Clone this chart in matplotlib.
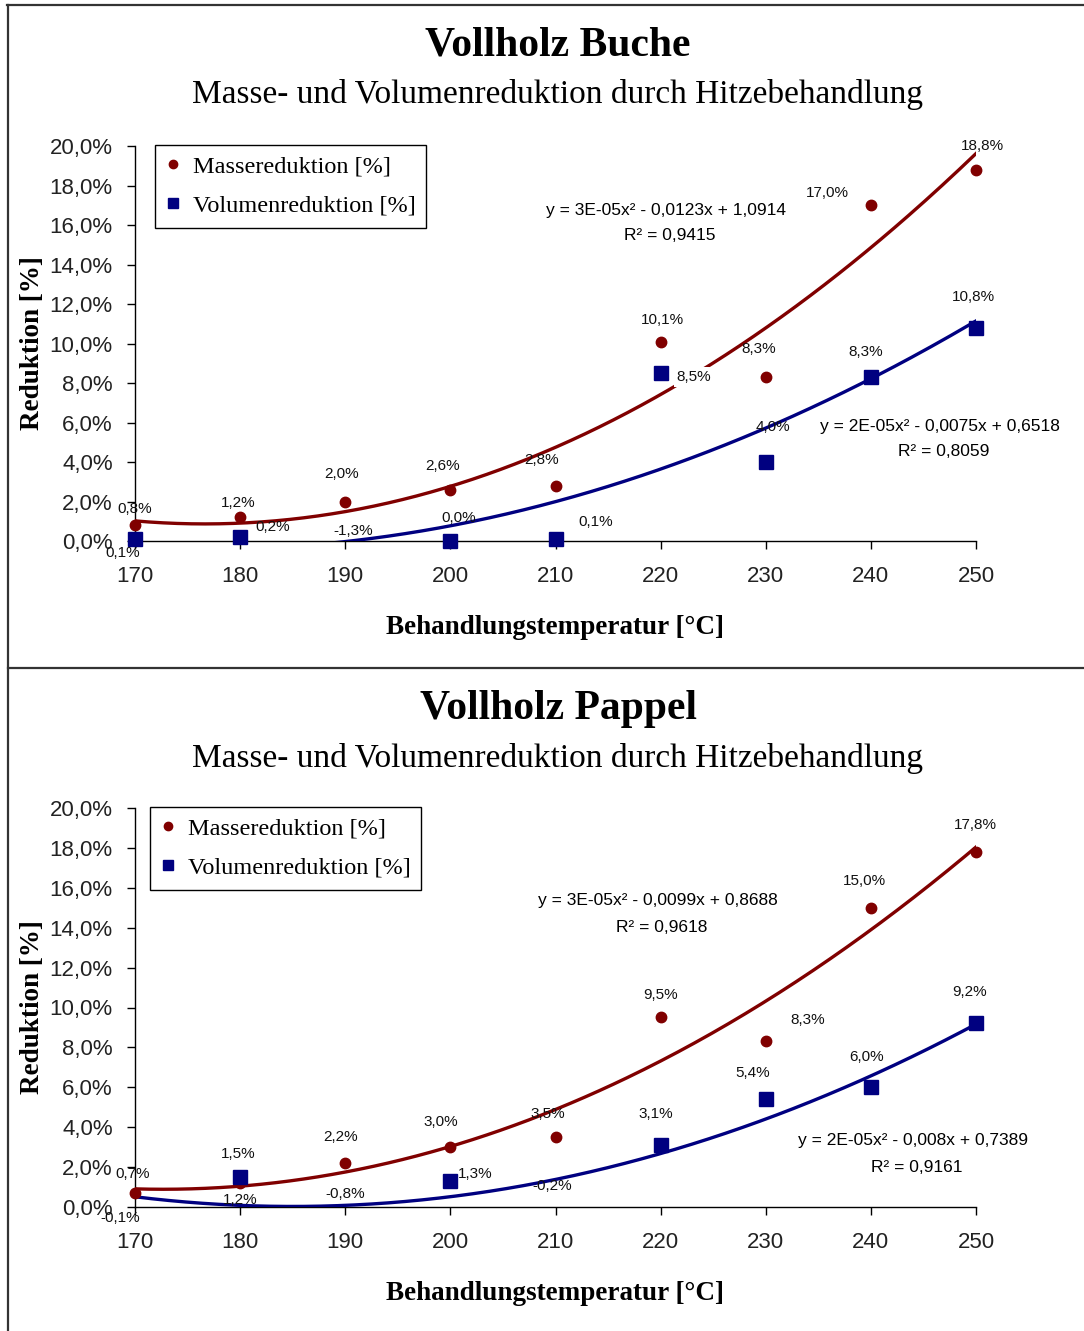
import matplotlib.pyplot as plt
import numpy as np
from matplotlib.lines import Line2D
from matplotlib.ticker import FuncFormatter, MultipleLocator

W, H = 1084, 1331

temps = [170, 180, 190, 200, 210, 220, 230, 240, 250]

buche_masse = [0.8, 1.2, 2.0, 2.6, 2.8, 10.1, 8.3, 17.0, 18.8]
buche_volumen = [0.1, 0.2, -1.3, 0.0, 0.1, 8.5, 4.0, 8.3, 10.8]
pappel_masse = [0.7, 1.2, 2.2, 3.0, 3.5, 9.5, 8.3, 15.0, 17.8]
pappel_volumen = [-0.1, 1.5, -0.8, 1.3, -0.2, 3.1, 5.4, 6.0, 9.2]

buche_eq_masse = ["y = 3E-05x² - 0,0123x + 1,0914", "R² = 0,9415"]
buche_eq_volumen = ["y = 2E-05x² - 0,0075x + 0,6518", "R² = 0,8059"]
pappel_eq_masse = ["y = 3E-05x² - 0,0099x + 0,8688", "R² = 0,9618"]
pappel_eq_volumen = ["y = 2E-05x² - 0,008x + 0,7389", "R² = 0,9161"]

series_names = ["Massereduktion [%]", "Volumenreduktion [%]"]

# label offsets from their points, in pixels (dx right, dy up)
buche_masse_off = [(0, 16), (-2, 14), (-4, 28), (-8, 24), (-14, 26), (2, 22), (-7, 28), (-44, 12), (6, 24)]
buche_volumen_off = [(-12, -14), (33, 10), (8, 36), (8, 23), (40, 17), (33, -4), (7, 35), (-5, 25), (-3, 31)]
pappel_masse_off = [(-2, 19), (0, -17), (-5, 26), (-10, 25), (-8, 23), (0, 22), (42, 21), (-6, 27), (-1, 27)]
pappel_volumen_off = [(-15, -9), (-2, 23), (0, 29), (25, 7), (-3, 25), (-5, 31), (-13, 26), (-4, 30), (-6, 31)]

RED = "#800000"
BLUE = "#000080"
SERIF = "Liberation Serif"
SANS = "Liberation Sans"


def fx(x):
    return x / W


def fy(y):
    return 1 - y / H


def pct(v):
    return f"{v:.1f}".replace(".", ",") + "%"


def draw_panel(fig, rect, masse, volumen, m_off, v_off, eq_m, eq_v, eq_m_pos, eq_v_pos,
               title, title_y, legend_xy, boxed=()):
    left, top, right, bottom = rect
    ax = fig.add_axes([fx(left), fy(bottom), fx(right - left), (bottom - top) / H])

    xs = np.linspace(temps[0], temps[-1], 300)
    for vals, col in ((masse, RED), (volumen, BLUE)):
        coef = np.polyfit(temps, vals, 2)
        ax.plot(xs, np.polyval(coef, xs), color=col, lw=2.4, zorder=3)

    m = np.array(masse, dtype=float)
    v = np.array(volumen, dtype=float)
    h_m, = ax.plot(temps, np.where(m >= 0, m, np.nan), "o", color=RED, ms=7.5,
                   clip_on=False, zorder=4)
    h_v, = ax.plot(temps, np.where(v >= 0, v, np.nan), "s", color=BLUE, ms=9.5,
                   mec=BLUE, clip_on=False, zorder=5)

    for vals, offs, tag in ((masse, m_off, "m"), (volumen, v_off, "v")):
        for i, (t, val) in enumerate(zip(temps, vals)):
            kw = {}
            if (tag, i) in boxed:
                kw["bbox"] = dict(facecolor="white", edgecolor="none", pad=2)
            ax.annotate(pct(val), (t, val), xytext=offs[i], textcoords="offset pixels",
                        ha="center", va="center", fontsize=11, family=SANS,
                        color="#111111", annotation_clip=False, zorder=6, **kw)

    ax.set_xlim(170, 250)
    ax.set_ylim(0, 20)
    ax.xaxis.set_major_locator(MultipleLocator(10))
    ax.yaxis.set_major_locator(MultipleLocator(2))
    ax.yaxis.set_major_formatter(FuncFormatter(lambda y, _: pct(y)))
    ax.tick_params(direction="out", length=6, width=1, labelsize=16, colors="black",
                   labelcolor="#222222")
    ax.tick_params(axis="x", pad=12)
    ax.tick_params(axis="y", pad=10)
    for lab in ax.get_xticklabels() + ax.get_yticklabels():
        lab.set_family(SANS)
    for s in ("top", "right"):
        ax.spines[s].set_visible(False)
    for s in ("left", "bottom"):
        ax.spines[s].set_linewidth(1)

    # trend equations
    for lines, (cx, cy) in ((eq_m, eq_m_pos), (eq_v, eq_v_pos)):
        fig.text(fx(cx), fy(cy), lines[0], ha="center", va="center", fontsize=12.5, family=SANS)
        fig.text(fx(cx + 4), fy(cy + 26), lines[1], ha="center", va="center", fontsize=12.5, family=SANS)

    fig.text(fx(558), fy(title_y), title, ha="center", va="center", fontsize=30,
             fontweight="bold", family=SERIF)
    fig.text(fx(558), fy(title_y + 49), "Masse- und Volumenreduktion durch Hitzebehandlung",
             ha="center", va="center", fontsize=24, family=SERIF)
    fig.text(fx(555), fy(bottom + 87), "Behandlungstemperatur [°C]", ha="center", va="center",
             fontsize=19.5, fontweight="bold", family=SERIF)
    fig.text(fx(33), fy((top + bottom) / 2), "Reduktion [%]", ha="center", va="center",
             rotation=90, fontsize=19.5, fontweight="bold", family=SERIF)

    leg = ax.legend([h_m, h_v], series_names, loc="upper left",
                    bbox_to_anchor=(fx(legend_xy[0]), fy(legend_xy[1])),
                    bbox_transform=fig.transFigure, frameon=True, fancybox=False,
                    edgecolor="black", framealpha=1, markerscale=0.8, handlelength=0.6,
                    handletextpad=0.5, labelspacing=0.7, borderpad=0.45, borderaxespad=0,
                    prop={"family": SERIF, "size": 17.5})
    leg.get_frame().set_linewidth(1)
    return ax


fig = plt.figure(figsize=(W / 100, H / 100), dpi=100)

draw_panel(fig, (135, 146, 976, 541), buche_masse, buche_volumen,
           buche_masse_off, buche_volumen_off, buche_eq_masse, buche_eq_volumen,
           (666, 210), (940, 426), "Vollholz Buche", 46, (155, 145), boxed={("v", 5)})

draw_panel(fig, (135, 808, 976, 1207), pappel_masse, pappel_volumen,
           pappel_masse_off, pappel_volumen_off, pappel_eq_masse, pappel_eq_volumen,
           (658, 901), (913, 1141), "Vollholz Pappel", 709, (150, 807))

# panel frames
frame = dict(color="#333333", lw=1.6)
fig.add_artist(Line2D([fx(7), 1], [fy(5), fy(5)], **frame))
fig.add_artist(Line2D([fx(8), fx(8)], [fy(5), 0], **frame))
fig.add_artist(Line2D([fx(8), 1], [fy(668), fy(668)], **frame))

fig.savefig("out.png", dpi=100)
